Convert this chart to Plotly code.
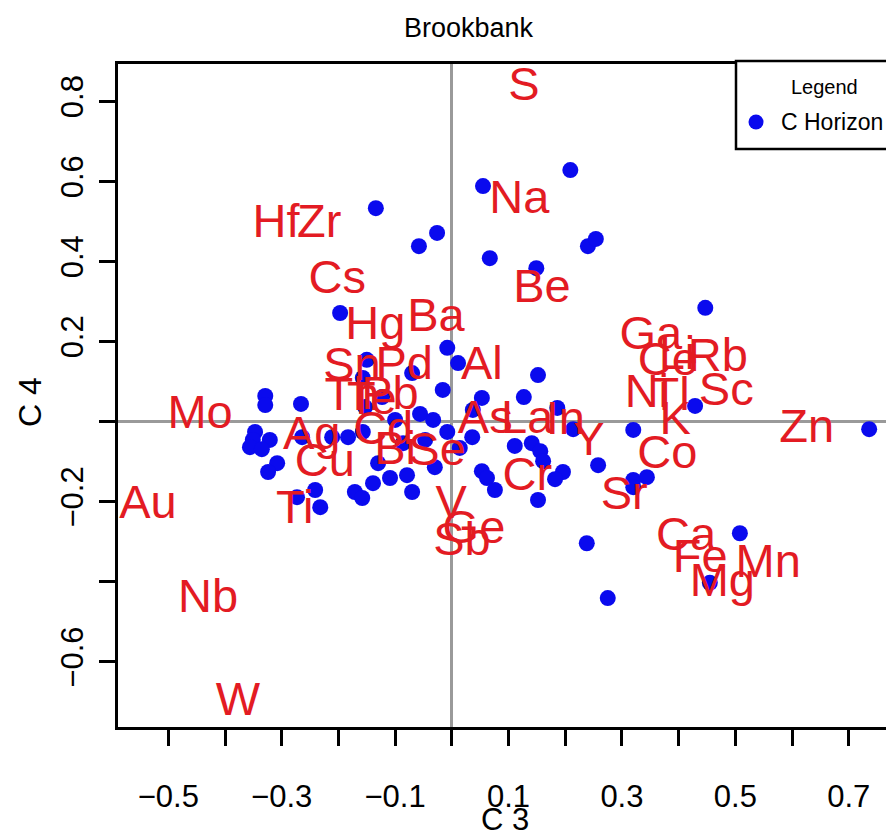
import plotly.graph_objects as go

# ---- Data: sample scores (C Horizon) on components C3 / C4 ----
sample_c3 = [0.209, 0.055, -0.134, -0.026, -0.058, 0.067, 0.240, 0.254, 0.149, 0.447,
             -0.197, -0.008, 0.011, -0.150, 0.152, -0.070, -0.016, 0.053, 0.127, 0.186,
             0.037, -0.056, -0.033, -0.008, 0.036, 0.214, 0.320, 0.429, 0.736, 0.014,
             0.111, 0.141, 0.156, 0.161, 0.053, 0.062, 0.076, 0.196, 0.182, 0.152,
             0.258, 0.320, 0.344, 0.320, 0.238, 0.275, 0.508, 0.455, -0.070, -0.079,
             -0.030, -0.109, -0.139, -0.130, -0.171, -0.158, -0.241, -0.273, -0.232, -0.329,
             -0.329, -0.266, -0.347, -0.351, -0.321, -0.356, -0.335, -0.308, -0.324, -0.264,
             -0.211, -0.183, -0.157, -0.153, -0.157, -0.086, -0.123, -0.100, -0.047]
sample_c4 = [0.628, 0.588, 0.533, 0.471, 0.438, 0.408, 0.438, 0.456, 0.383, 0.284,
             0.271, 0.184, 0.146, 0.154, 0.116, 0.121, 0.079, 0.059, 0.061, 0.034,
             0.029, 0.019, 0.004, -0.026, -0.039, -0.019, -0.021, 0.039, -0.019, -0.066,
             -0.061, -0.054, -0.074, -0.099, -0.124, -0.141, -0.171, -0.126, -0.144, -0.196,
             -0.109, -0.146, -0.139, -0.164, -0.304, -0.441, -0.279, -0.403, -0.176, -0.134,
             -0.114, -0.141, -0.154, -0.104, -0.176, -0.191, -0.171, -0.189, -0.214, 0.064,
             0.041, 0.044, -0.026, -0.046, -0.046, -0.064, -0.069, -0.104, -0.126, -0.039,
             -0.039, -0.039, -0.026, 0.036, 0.109, -0.054, 0.061, 0.004, -0.046]

# ---- Data: variable loadings (element labels) ----
elements = ["S", "Na", "Hf", "Zr", "Cs", "Be", "Hg", "Ba", "Al", "Pd",
            "Sn", "Th", "Te", "Pb", "Cd", "Bi", "Se", "Mo", "Ag", "Cu",
            "Ti", "Au", "Nb", "W", "V", "Ge", "Sb", "Cr", "As", "La",
            "In", "Y", "Sr", "Co", "Ni", "Tl", "K", "Ga", "Ce", "Li",
            "Rb", "Sc", "Zn", "Ca", "Fe", "Mn", "Mg"]
elem_c3 = [0.127, 0.119, -0.310, -0.234, -0.202, 0.159, -0.135, -0.028, 0.053, -0.084,
           -0.176, -0.176, -0.141, -0.109, -0.121, -0.100, -0.026, -0.444, -0.247, -0.224,
           -0.277, -0.536, -0.430, -0.377, -0.001, 0.039, 0.018, 0.133, 0.059, 0.133,
           0.200, 0.242, 0.304, 0.380, 0.344, 0.385, 0.394, 0.351, 0.381, 0.397,
           0.469, 0.484, 0.626, 0.413, 0.438, 0.558, 0.477]
elem_c4 = [0.833, 0.551, 0.491, 0.491, 0.351, 0.329, 0.236, 0.256, 0.136, 0.136,
           0.134, 0.059, 0.049, 0.061, -0.026, -0.076, -0.079, 0.014, -0.039, -0.106,
           -0.224, -0.211, -0.446, -0.703, -0.211, -0.274, -0.304, -0.141, 0.001, 0.001,
           -0.001, -0.054, -0.189, -0.086, 0.066, 0.059, -0.001, 0.211, 0.146, 0.161,
           0.156, 0.071, -0.021, -0.291, -0.346, -0.358, -0.406]

x_ticks = [-0.5, -0.4, -0.3, -0.2, -0.1, 0.0, 0.1, 0.2, 0.3, 0.4, 0.5, 0.6, 0.7]
x_ticklabels = ["\u22120.5", "", "\u22120.3", "", "\u22120.1", "", "0.1", "", "0.3", "", "0.5", "", "0.7"]
y_ticks = [-0.6, -0.4, -0.2, 0.0, 0.2, 0.4, 0.6, 0.8]
y_ticklabels = ["\u22120.6", "", "\u22120.2", "", "0.2", "0.4", "0.6", "0.8"]

FONT = "Arial, Liberation Sans, sans-serif"
RED = "#E31B23"
BLUE = "#0A0AEE"

fig = go.Figure()
fig.add_trace(go.Scatter(x=sample_c3, y=sample_c4, mode="markers",
                         marker=dict(size=16, color=BLUE, line=dict(width=0)),
                         name="C Horizon", showlegend=False, hoverinfo="skip"))
fig.add_trace(go.Scatter(x=elem_c3, y=elem_c4, mode="text", text=elements,
                         textposition="middle center",
                         textfont=dict(family=FONT, size=47, color=RED),
                         showlegend=False, hoverinfo="skip"))

# The page body has an 8px default margin; size the figure so the picture lands
# where the reference has it.
OFF = 8
W, H = 886, 837
ml, mr, mt, mb = 110, 0, 56, 118
pw, ph = W - ml - mr, H - mt - mb

def px(x):
    return (x - OFF - ml) / pw

def py(y):
    return (H - mb - (y - OFF)) / ph

axis_common = dict(showgrid=False, showline=True, linecolor="black", linewidth=3,
                   ticks="outside", ticklen=16, tickwidth=2.5, tickcolor="black",
                   tickfont=dict(family=FONT, size=31, color="black"),
                   zeroline=True, zerolinecolor="#9a9a9a", zerolinewidth=2.5)

fig.update_layout(
    width=W, height=H, autosize=False,
    margin=dict(l=ml, r=mr, t=mt, b=mb, pad=0),
    paper_bgcolor="white", plot_bgcolor="white",
    xaxis=dict(range=[-0.5887, 0.7798], tickmode="array", tickvals=x_ticks,
               ticktext=x_ticklabels, mirror=True, ticklabelstandoff=24, **axis_common),
    yaxis=dict(range=[-0.763, 0.893], tickmode="array", tickvals=y_ticks,
               ticktext=y_ticklabels, tickangle=-90, mirror=False, ticklabelstandoff=4,
               **axis_common),
    font=dict(family=FONT, color="black"),
)

annotations = [
    dict(text="Brookbank", x=px(469), y=py(28), font=dict(size=27)),
    dict(text="C 3", x=px(505), y=py(819), font=dict(size=31)),
    dict(text="C 4", x=px(30), y=py(402), textangle=-90, font=dict(size=32)),
    dict(text="Legend", x=px(824), y=py(87), font=dict(size=20)),
    dict(text="C Horizon", x=px(779), y=py(122), xanchor="left", font=dict(size=23)),
]
for a in annotations:
    a.update(xref="paper", yref="paper", showarrow=False)
    a.setdefault("xanchor", "center")
    a["yanchor"] = "middle"
    a["font"].update(family=FONT, color="black")
fig.update_layout(annotations=annotations)

fig.add_shape(type="rect", xref="paper", yref="paper",
              x0=px(736), x1=px(960), y0=py(149), y1=py(61),
              line=dict(color="black", width=2.5), fillcolor="white", layer="above")
fig.add_shape(type="circle", xref="paper", yref="paper",
              xsizemode="pixel", ysizemode="pixel",
              xanchor=px(756), yanchor=py(122), x0=-7.5, x1=7.5, y0=-7.5, y1=7.5,
              line=dict(width=0), fillcolor=BLUE, layer="above")

fig.write_html("out.html")
